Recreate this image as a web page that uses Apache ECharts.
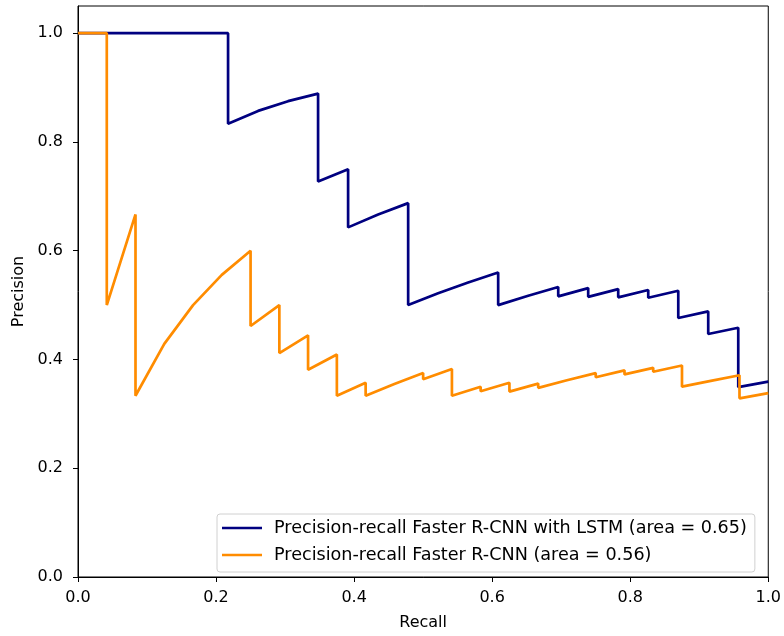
<!DOCTYPE html>
<html>
<head>
<meta charset="utf-8">
<script src="https://cdn.jsdelivr.net/npm/echarts@6/dist/echarts.min.js"></script>
<style>
html,body{margin:0;padding:0;background:#fff;}
#chart{width:784px;height:636px;}
</style>
</head>
<body>
<div id="chart"></div>
<script>
// Precision-recall Faster R-CNN with LSTM
const lstmRecall = [0, 0.2174, 0.2174, 0.2609, 0.3043, 0.3478, 0.3478, 0.3913, 0.3913, 0.4348, 0.4783, 0.4783, 0.5217, 0.5652, 0.6087, 0.6087, 0.6522, 0.6957, 0.6957, 0.7391, 0.7391, 0.7826, 0.7826, 0.8261, 0.8261, 0.8696, 0.8696, 0.9130, 0.9130, 0.9565, 0.9565, 1.0];
const lstmPrecision = [1.0, 1.0, 0.8333, 0.8571, 0.875, 0.8889, 0.7273, 0.75, 0.6429, 0.6667, 0.6875, 0.5, 0.5217, 0.5417, 0.56, 0.5, 0.5172, 0.5333, 0.5161, 0.5313, 0.5152, 0.5294, 0.5143, 0.5278, 0.5135, 0.5263, 0.4762, 0.4884, 0.4468, 0.4583, 0.3492, 0.3594];
// Precision-recall Faster R-CNN
const frcnnRecall = [0, 0.0417, 0.0417, 0.0833, 0.0833, 0.125, 0.1667, 0.2083, 0.25, 0.25, 0.2917, 0.2917, 0.3333, 0.3333, 0.375, 0.375, 0.4167, 0.4167, 0.4583, 0.5, 0.5, 0.5417, 0.5417, 0.5833, 0.5833, 0.625, 0.625, 0.6667, 0.6667, 0.7083, 0.75, 0.75, 0.7917, 0.7917, 0.8333, 0.8333, 0.875, 0.875, 0.9167, 0.9583, 0.9583, 1.0];
const frcnnPrecision = [1.0, 1.0, 0.5, 0.6667, 0.3333, 0.4286, 0.5, 0.5556, 0.6, 0.4615, 0.5, 0.4118, 0.4444, 0.381, 0.4091, 0.3333, 0.3571, 0.3333, 0.3548, 0.375, 0.3636, 0.3824, 0.3333, 0.35, 0.3415, 0.3571, 0.3409, 0.3556, 0.3478, 0.3617, 0.375, 0.3673, 0.38, 0.3725, 0.3846, 0.3774, 0.3889, 0.35, 0.3607, 0.371, 0.3286, 0.338];

const seriesNames = ['Precision-recall Faster R-CNN with LSTM (area = 0.65)', 'Precision-recall Faster R-CNN (area = 0.56)'];
const xTicks = [0.0, 0.2, 0.4, 0.6, 0.8, 1.0];
const yTicks = [0.0, 0.2, 0.4, 0.6, 0.8, 1.0];

const zip = (a, b) => a.map((v, i) => [v, b[i]]);
const FONT = 'DejaVu Sans';

const chart = echarts.init(document.getElementById('chart'), null, {renderer: 'canvas'});
chart.setOption({
  animation: false,
  backgroundColor: '#fff',
  textStyle: {fontFamily: FONT},
  grid: {left: 78, right: 15, top: 6, bottom: 56, show: true, borderColor: '#000', borderWidth: 1, backgroundColor: 'transparent'},
  legend: {
    orient: 'vertical',
    left: 217, top: 514,
    icon: 'rect',
    itemWidth: 40, itemHeight: 2.7,
    itemGap: 7,
    padding: [4, 8, 7, 5],
    backgroundColor: 'rgba(255,255,255,0.8)',
    borderColor: '#d0d0d0', borderWidth: 1, borderRadius: 3,
    textStyle: {fontFamily: FONT, fontSize: 17.6, color: '#000', lineHeight: 20, padding: [0, 0, 0, 7]},
    data: seriesNames
  },
  xAxis: {
    type: 'value', min: 0, max: 1, interval: 0.2,
    name: 'Recall', nameLocation: 'middle', nameGap: 38,
    nameTextStyle: {fontFamily: FONT, fontSize: 16, color: '#000'},
    axisLine: {show: true, lineStyle: {color: '#000', width: 1}},
    axisTick: {show: true, length: 5, lineStyle: {color: '#000'}},
    axisLabel: {fontFamily: FONT, fontSize: 16, color: '#000', margin: 13,
      formatter: v => xTicks.some(t => Math.abs(t - v) < 1e-9) ? v.toFixed(1) : ''},
    splitLine: {show: false}
  },
  yAxis: {
    type: 'value', min: 0, max: 1.05, interval: 0.2,
    name: 'Precision', nameLocation: 'middle', nameGap: 50,
    nameTextStyle: {fontFamily: FONT, fontSize: 16, color: '#000'},
    axisLine: {show: true, lineStyle: {color: '#000', width: 1}},
    axisTick: {show: true, length: 5, lineStyle: {color: '#000'}},
    axisLabel: {fontFamily: FONT, fontSize: 16, color: '#000', margin: 15, showMaxLabel: false,
      formatter: v => yTicks.some(t => Math.abs(t - v) < 1e-9) ? v.toFixed(1) : ''},
    splitLine: {show: false}
  },
  series: [
    {name: seriesNames[0], type: 'line', data: zip(lstmRecall, lstmPrecision), showSymbol: false, symbol: 'none',
      lineStyle: {color: '#000080', width: 2.7}, itemStyle: {color: '#000080'}, z: 2},
    {name: seriesNames[1], type: 'line', data: zip(frcnnRecall, frcnnPrecision), showSymbol: false, symbol: 'none',
      lineStyle: {color: '#ff8c00', width: 2.7}, itemStyle: {color: '#ff8c00'}, z: 3}
  ]
});
</script>
</body>
</html>
